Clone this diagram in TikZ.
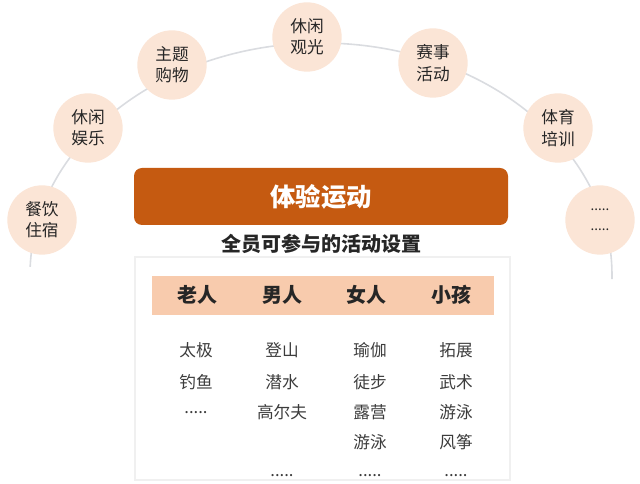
\documentclass[tikz,border=0pt]{standalone}
\usepackage{fontspec}
\setmainfont{Noto Sans CJK SC}
\definecolor{peach}{HTML}{FBE5D6}
\definecolor{rust}{HTML}{C55A11}
\definecolor{band}{HTML}{F8CBAD}
\definecolor{arcgray}{HTML}{DADCE0}
\definecolor{ink}{HTML}{262626}
\tikzset{
 circ/.style={circle,fill=peach,minimum size=52pt,inner sep=0pt,align=center,text=ink,font=\fontsize{12.5}{16}\selectfont},
 head/.style={text=ink,font=\fontsize{15}{18}\selectfont\bfseries},
 item/.style={text=ink!90,font=\fontsize{12.5}{15}\selectfont}
}
\begin{document}
\begin{tikzpicture}[x=0.75pt,y=-0.75pt]
 \useasboundingbox (0,0) rectangle (640,484);
 \draw[arcgray,line width=1.2pt] (321,275) ++(182:291 and 232) arc[start angle=182,end angle=361,x radius=291,y radius=232];
 \node[circ] (dining) at (42,220) {餐饮\\住宿};
 \node[circ] (leisure) at (88,128) {休闲\\娱乐};
 \node[circ] (shopping) at (172,65) {主题\\购物};
 \node[circ] (sightsee) at (307,37) {休闲\\观光};
 \node[circ] (event) at (433,63) {赛事\\活动};
 \node[circ] (training) at (558,128) {体育\\培训};
 \node[circ,font=\fontsize{10}{15}\selectfont] (more) at (600,220) {.....\\.....};
 \fill[rust,rounded corners=6pt] (134,168) rectangle (508,225);
 \node[white,font=\fontsize{19}{22}\selectfont\bfseries] (title) at (321,197) {体验运动};
 \node[text=ink,font=\fontsize{15}{18}\selectfont\bfseries] (subtitle) at (321,244) {全员可参与的活动设置};
 \draw[black!6,line width=0.8pt] (135,257) rectangle (510,480);
 \fill[band] (152,276) rectangle (494,315);
 \node[head] (old) at (197,295) {老人};
 \node[head] (men) at (282,295) {男人};
 \node[head] (women) at (366,295) {女人};
 \node[head] (kids) at (451,295) {小孩};
 \node[item] (taiji) at (196,350) {太极};
 \node[item] (fishing) at (196,382) {钓鱼};
 \node[item] (olddots) at (196,413) {.....};
 \node[item] (climb) at (282,350) {登山};
 \node[item] (dive) at (282,382) {潜水};
 \node[item] (golf) at (282,412) {高尔夫};
 \node[item] (mendots) at (282,476) {.....};
 \node[item] (yoga) at (370,350) {瑜伽};
 \node[item] (hike) at (370,382) {徒步};
 \node[item] (camp) at (370,412) {露营};
 \node[item] (swimw) at (370,442) {游泳};
 \node[item] (womendots) at (370,476) {.....};
 \node[item] (outward) at (456,350) {拓展};
 \node[item] (wushu) at (456,382) {武术};
 \node[item] (swimk) at (456,412) {游泳};
 \node[item] (kite) at (456,442) {风筝};
 \node[item] (kidsdots) at (456,476) {.....};
\end{tikzpicture}
\end{document}
